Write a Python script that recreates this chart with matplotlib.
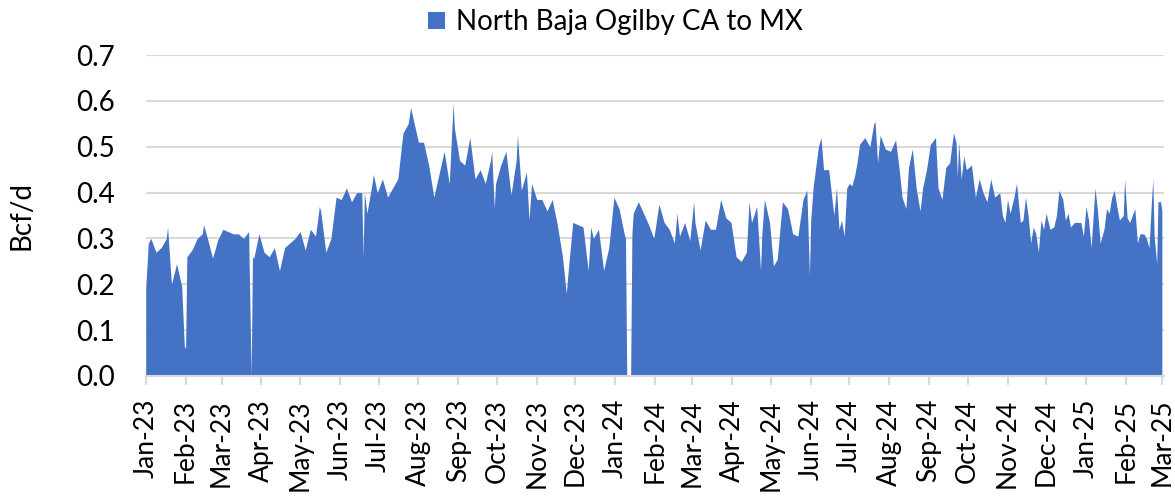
import pandas as pd
import numpy as np
import matplotlib
matplotlib.use('Agg')
from matplotlib import pyplot as plt
import matplotlib.dates as mdates

# day offset from 2023-01-01 and flow (Bcf/d)
day = [0, 2, 4, 8, 12, 16, 17, 20, 24, 28, 30, 31, 32, 36, 40, 44, 45, 48, 52, 56,
       60, 64, 68, 72, 76, 80, 82, 83, 84, 88, 92, 96, 100, 104, 108, 112, 116, 120, 124, 128,
       132, 135, 136, 140, 144, 148, 152, 156, 160, 164, 168, 169, 170, 172, 176, 177, 180, 184, 188, 192,
       196, 200, 204, 206, 208, 212, 216, 220, 224, 228, 232, 236, 239, 240, 244, 248, 252, 256, 260, 264,
       268, 269, 271, 272, 276, 280, 284, 288, 289, 292, 296, 298, 300, 304, 308, 312, 316, 320, 324, 327,
       328, 332, 336, 340, 344, 346, 348, 352, 356, 360, 364, 368, 372, 373, 374, 377, 378, 379, 383, 387,
       391, 395, 399, 403, 407, 411, 413, 415, 419, 423, 426, 427, 431, 435, 439, 443, 447, 451, 455, 459,
       463, 467, 469, 471, 475, 478, 479, 481, 485, 488, 491, 495, 499, 503, 507, 511, 514, 516, 517, 519,
       523, 525, 527, 531, 535, 537, 539, 541, 543, 545, 547, 549, 551, 553, 555, 559, 563, 566, 567, 569,
       571, 575, 579, 583, 586, 588, 591, 593, 596, 599, 602, 604, 607, 610, 614, 616, 619, 622, 625, 628,
       630, 631, 632, 634, 636, 638, 642, 645, 648, 651, 654, 657, 660, 664, 666, 668, 670, 672, 675, 677,
       680, 682, 684, 686, 688, 690, 692, 694, 696, 698, 700, 703, 706, 708, 710, 713, 715, 717, 719, 722,
       725, 727, 729, 731, 733, 735, 738, 740, 742, 745, 747, 749, 751, 753, 755, 757, 760, 761, 763, 765,
       767, 769, 771, 773, 776, 778, 780, 782, 783, 784, 786, 787, 789, 790]
flow = [0.19, 0.29, 0.30, 0.27, 0.28, 0.30, 0.325, 0.20, 0.245, 0.195, 0.065, 0.06, 0.26, 0.275, 0.30, 0.31, 0.33, 0.30, 0.257, 0.297,
        0.32, 0.315, 0.31, 0.31, 0.30, 0.315, 0.0, 0.26, 0.257, 0.31, 0.27, 0.26, 0.28, 0.23, 0.28, 0.29, 0.30, 0.315, 0.275, 0.32,
        0.305, 0.37, 0.36, 0.27, 0.30, 0.39, 0.385, 0.41, 0.38, 0.40, 0.40, 0.26, 0.40, 0.355, 0.42, 0.44, 0.40, 0.43, 0.39, 0.41,
        0.43, 0.53, 0.55, 0.585, 0.56, 0.51, 0.51, 0.46, 0.39, 0.44, 0.49, 0.42, 0.595, 0.54, 0.47, 0.46, 0.52, 0.43, 0.45, 0.42,
        0.47, 0.49, 0.366, 0.42, 0.46, 0.49, 0.395, 0.47, 0.525, 0.405, 0.445, 0.34, 0.42, 0.385, 0.385, 0.36, 0.385, 0.33, 0.26, 0.18,
        0.215, 0.335, 0.33, 0.325, 0.23, 0.325, 0.30, 0.32, 0.23, 0.28, 0.39, 0.365, 0.31, 0.30, 0.0, 0.0, 0.31, 0.355, 0.38, 0.355,
        0.33, 0.30, 0.375, 0.335, 0.32, 0.29, 0.355, 0.305, 0.335, 0.295, 0.38, 0.335, 0.275, 0.34, 0.32, 0.32, 0.385, 0.345, 0.335, 0.26,
        0.25, 0.27, 0.38, 0.335, 0.37, 0.23, 0.31, 0.385, 0.335, 0.24, 0.255, 0.38, 0.365, 0.31, 0.305, 0.385, 0.405, 0.22, 0.34, 0.415,
        0.50, 0.52, 0.45, 0.45, 0.35, 0.41, 0.32, 0.34, 0.305, 0.41, 0.42, 0.415, 0.435, 0.465, 0.505, 0.52, 0.50, 0.55, 0.555, 0.465,
        0.525, 0.495, 0.49, 0.515, 0.445, 0.39, 0.365, 0.455, 0.495, 0.41, 0.36, 0.41, 0.45, 0.505, 0.52, 0.41, 0.385, 0.455, 0.465, 0.53,
        0.51, 0.435, 0.51, 0.43, 0.48, 0.45, 0.46, 0.39, 0.43, 0.40, 0.38, 0.43, 0.39, 0.40, 0.35, 0.335, 0.385, 0.355, 0.39, 0.42,
        0.335, 0.34, 0.39, 0.35, 0.29, 0.325, 0.31, 0.27, 0.34, 0.32, 0.355, 0.32, 0.325, 0.35, 0.405, 0.385, 0.34, 0.355, 0.325, 0.335,
        0.335, 0.335, 0.305, 0.37, 0.34, 0.28, 0.41, 0.36, 0.29, 0.32, 0.365, 0.355, 0.39, 0.405, 0.37, 0.34, 0.35, 0.43, 0.345, 0.335,
        0.35, 0.365, 0.29, 0.31, 0.31, 0.30, 0.28, 0.385, 0.43, 0.305, 0.245, 0.38, 0.38, 0.36]

series_name = 'North Baja Ogilby CA to MX'
dates = pd.Timestamp('2023-01-01') + pd.to_timedelta(day, unit='D')

plt.rcParams['font.family'] = ['Lato', 'DejaVu Sans']

fig = plt.figure(figsize=(11.75, 4.96), dpi=100)
ax = fig.add_axes([0.124, 0.242, 0.867, 0.647])

ax.fill_between(dates, flow, 0, color='#4472C4', linewidth=0, label=series_name)

ax.set_ylim(0, 0.7)
ax.set_yticks(np.arange(0, 0.71, 0.1))
ax.yaxis.set_major_formatter(matplotlib.ticker.FormatStrFormatter('%.1f'))
ax.set_xlim(pd.Timestamp('2023-01-01'), pd.Timestamp('2025-03-03'))
ax.xaxis.set_major_locator(mdates.MonthLocator())
ax.xaxis.set_major_formatter(mdates.DateFormatter('%b-%y'))
plt.setp(ax.get_xticklabels(), rotation=90)

ax.grid(axis='y', color='#d9d9d9', linewidth=1.5)
ax.set_axisbelow(True)
for s in ['top', 'right', 'left']:
    ax.spines[s].set_visible(False)
ax.spines['bottom'].set_color('#d9d9d9')
ax.spines['bottom'].set_linewidth(1.5)
ax.tick_params(axis='y', length=0, labelsize=20, pad=22)
ax.tick_params(axis='x', length=6.5, color='#d9d9d9', width=1.5, labelsize=19, pad=10)
ax.set_ylabel('Bcf/d', fontsize=20, labelpad=30)

fig.legend(loc='center', bbox_to_anchor=(0.524, 0.955), frameon=False, fontsize=20,
           handlelength=0.6, handleheight=0.6, handletextpad=0.4)

fig.savefig('out.png', dpi=100)
